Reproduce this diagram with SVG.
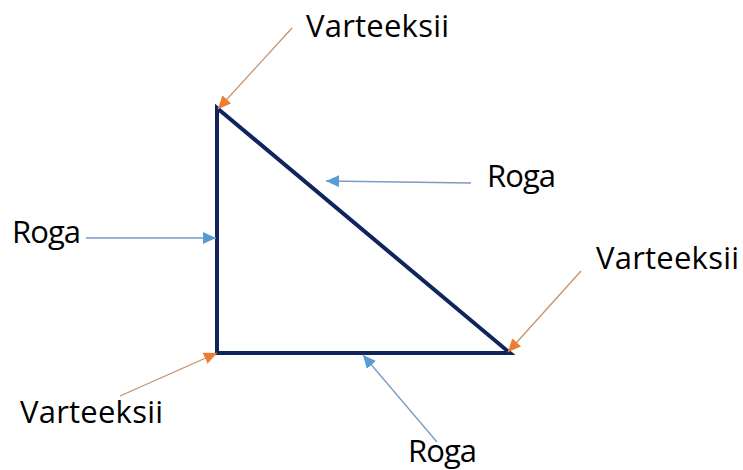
<svg xmlns="http://www.w3.org/2000/svg" width="743" height="470" viewBox="0 0 743 470">
<style>
text{font-family:"Open Sans","Liberation Sans",sans-serif;font-size:31px;fill:#000}
.v{stroke:#c4916b;stroke-width:1.3;fill:none}
.e{stroke:#7a9cc0;stroke-width:1.3;fill:none}
</style>
<defs>
<marker id="ao" markerUnits="userSpaceOnUse" markerWidth="14" markerHeight="12" refX="13" refY="6" orient="auto"><path d="M0,0 L13,6 L0,12 z" fill="#ed7d31"/></marker>
<marker id="ab" markerUnits="userSpaceOnUse" markerWidth="14" markerHeight="12" refX="13" refY="6" orient="auto"><path d="M0,0 L13,6 L0,12 z" fill="#5b9bd5"/></marker>
</defs>
<rect width="743" height="470" fill="#fff"/>
<g id="triangle"><path d="M217,108 L217,353 L510,353 Z" fill="none" stroke="#10255e" stroke-width="4" stroke-linejoin="miter"/></g>
<g id="connectors">
<line class="v" x1="292" y1="28" x2="218" y2="109" marker-end="url(#ao)"/>
<line class="e" x1="86" y1="238" x2="216" y2="238" marker-end="url(#ab)"/>
<line class="e" x1="471" y1="183" x2="326" y2="181" marker-end="url(#ab)"/>
<line class="v" x1="581" y1="271" x2="508" y2="352" marker-end="url(#ao)"/>
<line class="v" x1="120" y1="396" x2="217" y2="353" marker-end="url(#ao)"/>
<line class="e" x1="437" y1="442" x2="363" y2="355" marker-end="url(#ab)"/>
</g>
<g id="label-top"><text x="306" y="37" textLength="143">Varteeksii</text></g>
<g id="label-left"><text x="12" y="243" textLength="69">Roga</text></g>
<g id="label-hyp"><text x="487" y="187" textLength="69">Roga</text></g>
<g id="label-right"><text x="596" y="269" textLength="143">Varteeksii</text></g>
<g id="label-bl"><text x="20" y="423" textLength="143">Varteeksii</text></g>
<g id="label-bottom"><text x="408" y="462" textLength="69">Roga</text></g>
</svg>
